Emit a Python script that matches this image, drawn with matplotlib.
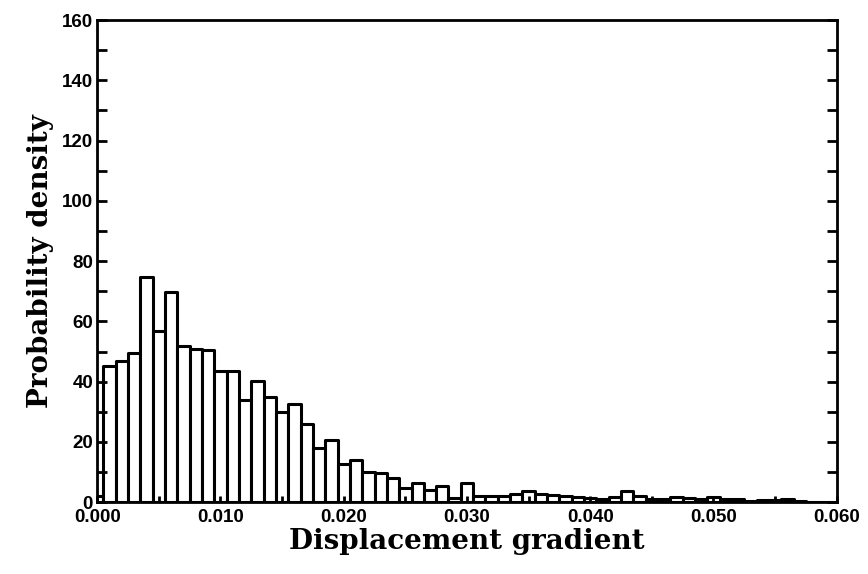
import matplotlib.pyplot as plt
import numpy as np

# bin centres (units of 0.001) and probability density
centres = np.arange(0, 61) * 0.001
density = [2.0, 45.2, 47.0, 49.6, 74.9, 56.7, 69.9, 51.8, 50.7, 50.5,
           43.7, 43.6, 34.0, 40.1, 34.9, 29.8, 32.7, 26.1, 18.0, 20.5,
           12.6, 14.0, 10.2, 9.8, 8.2, 4.6, 6.4, 3.9, 5.3, 1.5,
           6.3, 2.2, 2.0, 2.2, 2.8, 3.6, 2.8, 2.4, 2.0, 1.7,
           1.3, 1.1, 1.7, 3.6, 2.2, 1.1, 1.1, 1.7, 1.3, 1.0,
           1.7, 1.0, 1.0, 0.3, 0.8, 0.8, 1.1, 0.5, 0.2, 0.1, 0.0]
bin_width = 0.001

fig = plt.figure(figsize=(8.68, 5.74), dpi=100)
ax = fig.add_axes([0.112, 0.125, 0.852, 0.84])

ax.bar(centres, density, width=bin_width, color='white', edgecolor='black',
       linewidth=2.2, joinstyle='round', align='center')

ax.set_xlim(0, 0.060)
ax.set_ylim(0, 160)
ax.set_xticks(np.arange(0, 0.0601, 0.01))
ax.set_xticklabels(['%.3f' % v for v in np.arange(0, 0.0601, 0.01)])
ax.set_xticks(np.arange(0.005, 0.06, 0.01), minor=True)
ax.set_yticks(np.arange(0, 161, 20))
ax.set_yticks(np.arange(10, 160, 20), minor=True)

ax.tick_params(axis='both', which='both', direction='in', width=2)
ax.tick_params(axis='y', which='both', right=True, length=7)
ax.tick_params(axis='x', which='both', length=4)
ax.tick_params(axis='y', which='major', pad=3)
ax.tick_params(axis='x', which='major', pad=5)
for lab in ax.get_xticklabels() + ax.get_yticklabels():
    lab.set_fontfamily('Liberation Sans')
    lab.set_fontweight('bold')
    lab.set_fontsize(13.5)

for s in ax.spines.values():
    s.set_linewidth(2)

ax.set_xlabel('Displacement gradient', family='DejaVu Serif',
              fontweight='bold', fontsize=20, labelpad=1)
ax.set_ylabel('Probability density', family='DejaVu Serif',
              fontweight='bold', fontsize=20, labelpad=6)

fig.savefig('out.png', dpi=100)
